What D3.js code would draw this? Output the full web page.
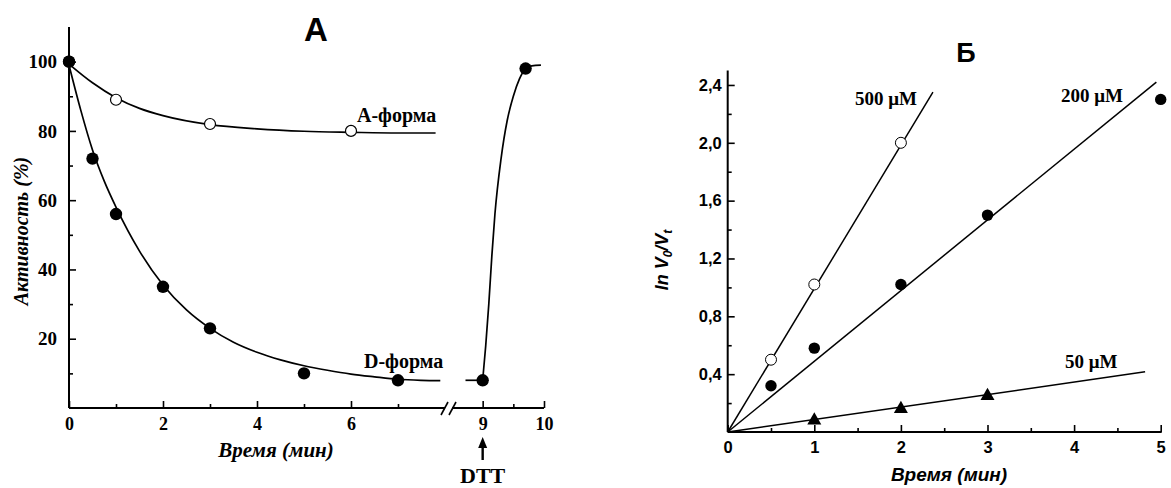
<!DOCTYPE html>
<html><head><meta charset="utf-8">
<script src="https://cdn.jsdelivr.net/npm/d3@7"></script>
<style>
body{margin:0;background:#fff;}
svg{display:block;}
.serif{font-family:"Liberation Serif","Times New Roman",serif;font-weight:bold;}
.sans{font-family:"Liberation Sans",Arial,sans-serif;font-weight:bold;}
</style></head>
<body>
<svg id="c" width="1171" height="488"></svg>
<script>
// ---------- Panel A data ----------
const aTime = [0, 1, 3, 6];
const aAct  = [100, 89, 82, 80];
const dTime = [0, 0.5, 1, 2, 3, 5, 7, 9, 9.7];
const dAct  = [100, 72, 56, 35, 23, 10, 8, 8, 98];
// fitted curves
const aFitT = [0, 0.5, 1, 1.5, 2, 3, 4, 5, 6, 7, 7.8];
const aFitY = [99.3, 93.9, 89.6, 86.5, 84.4, 81.8, 80.6, 79.9, 79.6, 79.4, 79.4];
const dFitT = [0, 0.25, 0.5, 0.75, 1, 1.5, 2, 2.5, 3, 3.5, 4, 4.5, 5, 5.5, 6, 6.5, 7, 7.5, 7.9];
const dFitY = [99, 86, 74.5, 65.5, 58, 45.3, 35.5, 28.3, 23, 19, 16.1, 13.9, 12.2, 10.9, 9.8, 9, 8.3, 8, 7.9];
const flatT = [8.72, 9];
const flatY = [8, 8];
const riseT = [9, 9.05, 9.1, 9.15, 9.2, 9.3, 9.4, 9.5, 9.6, 9.7, 9.8, 9.95];
const riseY = [8, 18, 30, 44, 56, 72, 83, 90, 95, 98, 98.8, 99];
const aYTicks = [20, 40, 60, 80, 100];
const aYMinor = [10, 30, 50, 70, 90];
const aXTicks1 = [0, 2, 4, 6];
const aXMinor1 = [1, 3, 5, 7];
const aXTicks2 = [9, 10];
const aXMinor2 = [9.5];

// ---------- Panel Б data ----------
const bX500 = [0.5, 1, 2];
const bY500 = [0.5, 1.02, 2.0];
const bX200 = [0.5, 1, 2, 3, 5];
const bY200 = [0.32, 0.58, 1.02, 1.5, 2.3];
const bX50  = [1, 2, 3];
const bY50  = [0.08, 0.16, 0.25];
// regression lines: from origin to end point
const lineEndX = [2.37, 4.95, 4.82];
const lineEndY = [2.35, 2.42, 0.416];
const bXTicks = [0, 1, 2, 3, 4, 5];
const bXMinor = [0.5, 1.5, 2.5, 3.5, 4.5];
const bYTicks = [0.4, 0.8, 1.2, 1.6, 2.0, 2.4];
const bYMinor = [0.2, 0.6, 1.0, 1.4, 1.8, 2.2];

const svg = d3.select("#c");
const fmtComma = d => d3.format(".1f")(d).replace(".", ",");

// ================= Panel A =================
const yA = d3.scaleLinear([0, 110], [408, 27]);
const xA1 = d3.scaleLinear([0, 8], [69, 445]);
const xA2 = d3.scaleLinear([8.5, 10], [452, 544]);
const xA = t => t <= 8 ? xA1(t) : xA2(t);

const gA = svg.append("g");
// y axis
const yAxA = gA.append("g").attr("transform", "translate(69,0)")
  .call(d3.axisLeft(yA).tickValues(aYTicks).tickSize(-7).tickPadding(12).tickFormat(d3.format("d")));
yAxA.select(".domain").attr("stroke-width", 2).attr("d", `M0,${yA(0)}V${yA(110)}`);
yAxA.selectAll(".tick line").attr("stroke-width", 1.6);
yAxA.selectAll("text").attr("class", "serif").style("font-size", "19px").attr("fill", "#000");
gA.append("g").attr("transform", "translate(69,0)")
  .call(d3.axisLeft(yA).tickValues(aYMinor).tickSize(-4).tickFormat(""))
  .call(g => g.select(".domain").remove())
  .selectAll(".tick line").attr("stroke-width", 1.6);

// x axis segment 1
const xAx1 = gA.append("g").attr("transform", `translate(0,${yA(0)})`)
  .call(d3.axisBottom(xA1).tickValues(aXTicks1).tickSize(-7).tickPadding(9).tickFormat(d3.format("d")));
xAx1.select(".domain").attr("stroke-width", 2).attr("d", `M${xA1(0)},0H${xA1(8)}`);
xAx1.selectAll(".tick line").attr("stroke-width", 1.6);
xAx1.selectAll("text").attr("class", "serif").style("font-size", "18px").attr("fill", "#000");
gA.append("g").attr("transform", `translate(0,${yA(0)})`)
  .call(d3.axisBottom(xA1).tickValues(aXMinor1).tickSize(-4).tickFormat(""))
  .call(g => g.select(".domain").remove())
  .selectAll(".tick line").attr("stroke-width", 1.6);
// x axis segment 2
const xAx2 = gA.append("g").attr("transform", `translate(0,${yA(0)})`)
  .call(d3.axisBottom(xA2).tickValues(aXTicks2).tickSize(-7).tickPadding(9).tickFormat(d3.format("d")));
xAx2.select(".domain").attr("stroke-width", 2).attr("d", `M${xA2(8.5)},0H${xA2(10)}`);
xAx2.selectAll(".tick line").attr("stroke-width", 1.6);
xAx2.selectAll("text").attr("class", "serif").style("font-size", "18px").attr("fill", "#000");
gA.append("g").attr("transform", `translate(0,${yA(0)})`)
  .call(d3.axisBottom(xA2).tickValues(aXMinor2).tickSize(-4).tickFormat(""))
  .call(g => g.select(".domain").remove())
  .selectAll(".tick line").attr("stroke-width", 1.6);
// break marks
const by = yA(0);
[[441, 448], [449, 456]].forEach(([x1, x2]) => {
  gA.append("line").attr("x1", x1).attr("y1", by + 7).attr("x2", x2).attr("y2", by - 6)
    .attr("stroke", "#000").attr("stroke-width", 1.6);
});

// curves
const lineA = d3.line().x(d => xA(d[0])).y(d => yA(d[1])).curve(d3.curveMonotoneX);
const curveStyle = p => p.attr("fill", "none").attr("stroke", "#000").attr("stroke-width", 1.7);
gA.append("path").datum(d3.zip(aFitT, aFitY)).attr("d", lineA).call(curveStyle);
gA.append("path").datum(d3.zip(dFitT, dFitY)).attr("d", lineA).call(curveStyle);
gA.append("path").datum(d3.zip(flatT, flatY)).attr("d", d3.line().x(d => xA(d[0])).y(d => yA(d[1]))).call(curveStyle);
gA.append("path").datum(d3.zip(riseT, riseY)).attr("d", lineA).call(curveStyle);

// points
gA.selectAll(".ap").data(d3.zip(aTime, aAct)).join("circle")
  .attr("cx", d => xA(d[0])).attr("cy", d => yA(d[1])).attr("r", 5.5)
  .attr("fill", "#fff").attr("stroke", "#000").attr("stroke-width", 1.2);
gA.selectAll(".dp").data(d3.zip(dTime, dAct)).join("circle")
  .attr("cx", d => xA(d[0])).attr("cy", d => yA(d[1])).attr("r", 6.2)
  .attr("fill", "#000");

// labels
gA.append("text").attr("class", "serif").attr("x", 357).attr("y", 122).style("font-size", "20px").text("А-форма");
gA.append("text").attr("class", "serif").attr("x", 364).attr("y", 368).style("font-size", "20px").text("D-форма");
gA.append("text").attr("class", "sans").attr("x", 316).attr("y", 41).attr("text-anchor", "middle").style("font-size", "33px").text("А");
gA.append("text").attr("class", "serif").attr("x", 276).attr("y", 457).attr("text-anchor", "middle")
  .style("font-size", "21px").style("font-style", "italic").text("Время (мин)");
gA.append("text").attr("class", "serif").attr("transform", "translate(28,231) rotate(-90)").attr("text-anchor", "middle")
  .style("font-size", "20px").style("font-style", "italic").text("Активность (%)");
// DTT arrow
gA.append("line").attr("x1", xA(9)).attr("x2", xA(9)).attr("y1", 460).attr("y2", 446).attr("stroke", "#000").attr("stroke-width", 2.4);
gA.append("path").attr("d", `M${xA(9)},437L${xA(9) - 4.5},448L${xA(9) + 4.5},448Z`).attr("fill", "#000");
gA.append("text").attr("class", "serif").attr("x", xA(9)).attr("y", 483).attr("text-anchor", "middle").style("font-size", "22px").text("DTT");

// ================= Panel Б =================
const xB = d3.scaleLinear([0, 5], [727.7, 1160.7]);
const yB = d3.scaleLinear([0, 2.5], [432, 70.5]);
const gB = svg.append("g");
const yAxB = gB.append("g").attr("transform", `translate(${xB(0)},0)`)
  .call(d3.axisLeft(yB).tickValues(bYTicks).tickSize(-7).tickPadding(6).tickFormat(fmtComma));
yAxB.select(".domain").attr("stroke-width", 2).attr("d", `M0,${yB(0)}V${yB(2.5)}`);
yAxB.selectAll(".tick line").attr("stroke-width", 1.6);
yAxB.selectAll("text").attr("class", "sans").style("font-size", "16.5px").attr("fill", "#000");
gB.append("g").attr("transform", `translate(${xB(0)},0)`)
  .call(d3.axisLeft(yB).tickValues(bYMinor).tickSize(-4).tickFormat(""))
  .call(g => g.select(".domain").remove())
  .selectAll(".tick line").attr("stroke-width", 1.6);
const xAxB = gB.append("g").attr("transform", `translate(0,${yB(0)})`)
  .call(d3.axisBottom(xB).tickValues(bXTicks).tickSize(-7).tickPadding(9).tickFormat(d3.format("d")));
xAxB.select(".domain").attr("stroke-width", 2).attr("d", `M${xB(0)},0H${xB(5) + 1}`);
xAxB.selectAll(".tick line").attr("stroke-width", 1.6);
xAxB.selectAll("text").attr("class", "sans").style("font-size", "16.5px").attr("fill", "#000");
gB.append("g").attr("transform", `translate(0,${yB(0)})`)
  .call(d3.axisBottom(xB).tickValues(bXMinor).tickSize(-4).tickFormat(""))
  .call(g => g.select(".domain").remove())
  .selectAll(".tick line").attr("stroke-width", 1.6);

// regression lines
d3.zip(lineEndX, lineEndY).forEach(([ex, ey]) => {
  gB.append("line").attr("x1", xB(0)).attr("y1", yB(0)).attr("x2", xB(ex)).attr("y2", yB(ey))
    .attr("stroke", "#000").attr("stroke-width", 1.5);
});
// points
gB.selectAll(".p500").data(d3.zip(bX500, bY500)).join("circle")
  .attr("cx", d => xB(d[0])).attr("cy", d => yB(d[1])).attr("r", 5.5)
  .attr("fill", "#fff").attr("stroke", "#000").attr("stroke-width", 1);
gB.selectAll(".p200").data(d3.zip(bX200, bY200)).join("circle")
  .attr("cx", d => xB(d[0])).attr("cy", d => yB(d[1])).attr("r", 5.7).attr("fill", "#000");
const tri = d3.symbol().type(d3.symbolTriangle).size(85);
gB.selectAll(".p50").data(d3.zip(bX50, bY50)).join("path")
  .attr("d", tri).attr("transform", d => `translate(${xB(d[0])},${yB(d[1])})`).attr("fill", "#000");

// labels
gB.append("text").attr("class", "serif").attr("x", 855).attr("y", 105).style("font-size", "19px").text("500 μM");
gB.append("text").attr("class", "serif").attr("x", 1061).attr("y", 102).style("font-size", "19px").text("200 μM");
gB.append("text").attr("class", "serif").attr("x", 1065).attr("y", 368).style("font-size", "19px").text("50 μM");
gB.append("text").attr("class", "sans").attr("x", 966).attr("y", 62).attr("text-anchor", "middle").style("font-size", "27px").text("Б");
gB.append("text").attr("class", "sans").attr("x", 949).attr("y", 481).attr("text-anchor", "middle")
  .style("font-size", "19px").style("font-style", "italic").text("Время (мин)");
const yt = gB.append("text").attr("class", "sans").attr("transform", "translate(668,260) rotate(-90)")
  .attr("text-anchor", "middle").style("font-size", "18px").style("font-style", "italic");
yt.append("tspan").text("ln V");
yt.append("tspan").attr("dy", 4).style("font-size", "12px").text("0");
yt.append("tspan").attr("dy", -4).text("/V");
yt.append("tspan").attr("dy", 4).style("font-size", "12px").text("t");
</script>
</body></html>
